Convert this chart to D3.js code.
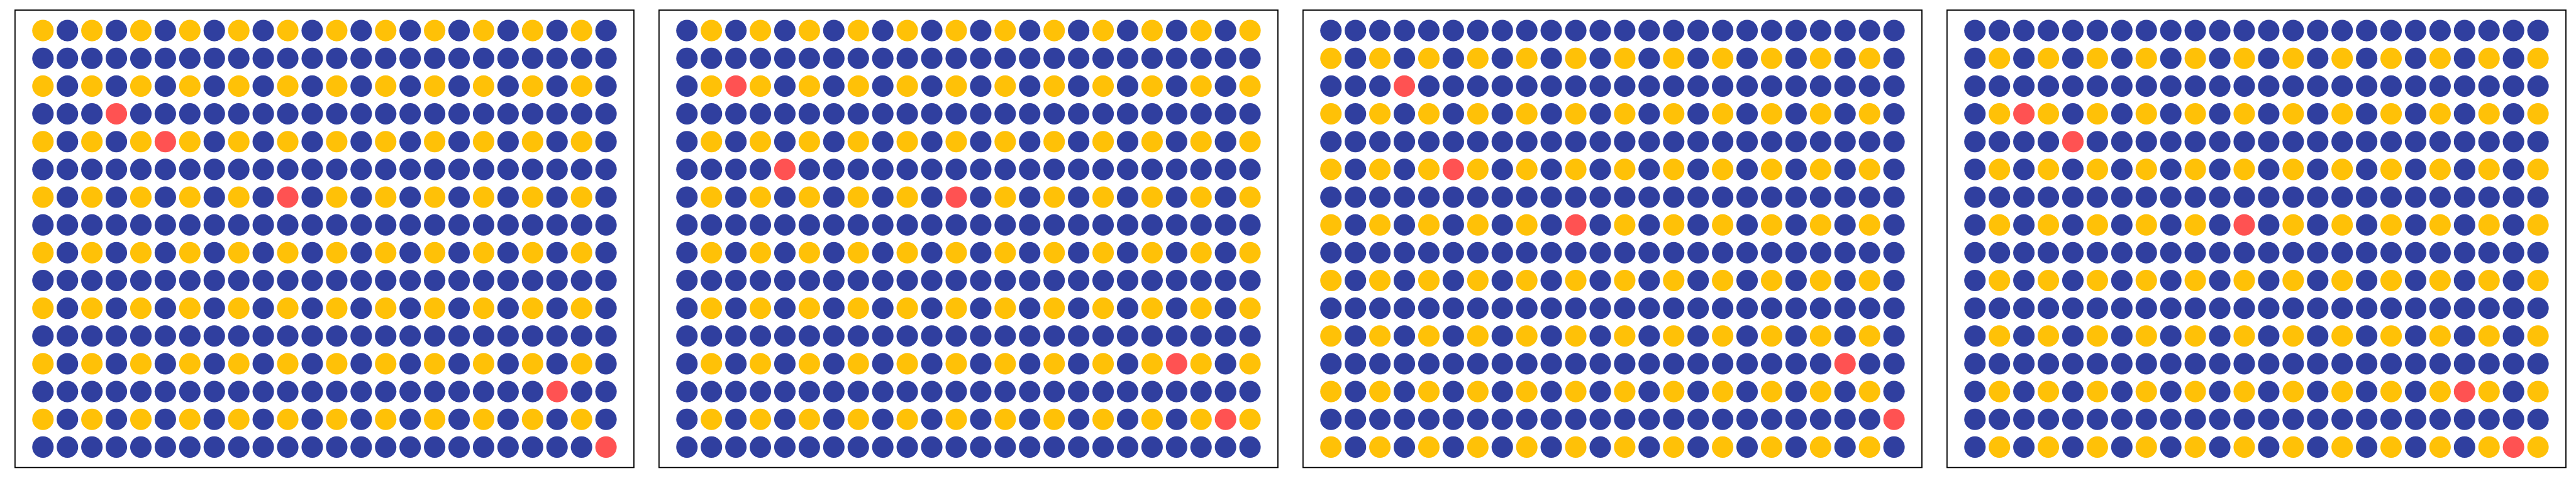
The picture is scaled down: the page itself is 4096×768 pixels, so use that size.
<!DOCTYPE html>
<html>
<head>
<meta charset="utf-8">
<script src="https://cdn.jsdelivr.net/npm/d3@7/dist/d3.min.js"></script>
<style>
  html, body { margin: 0; padding: 0; background: #ffffff; }
  svg { display: block; }
</style>
</head>
<body>
<div id="chart"></div>
<script>
// Cell codes: Y = yellow, N = navy, R = red
const panel1 = [
  "YNYNYNYNYNYNYNYNYNYNYNYN",
  "NNNNNNNNNNNNNNNNNNNNNNNN",
  "YNYNYNYNYNYNYNYNYNYNYNYN",
  "NNNRNNNNNNNNNNNNNNNNNNNN",
  "YNYNYRYNYNYNYNYNYNYNYNYN",
  "NNNNNNNNNNNNNNNNNNNNNNNN",
  "YNYNYNYNYNRNYNYNYNYNYNYN",
  "NNNNNNNNNNNNNNNNNNNNNNNN",
  "YNYNYNYNYNYNYNYNYNYNYNYN",
  "NNNNNNNNNNNNNNNNNNNNNNNN",
  "YNYNYNYNYNYNYNYNYNYNYNYN",
  "NNNNNNNNNNNNNNNNNNNNNNNN",
  "YNYNYNYNYNYNYNYNYNYNYNYN",
  "NNNNNNNNNNNNNNNNNNNNNRNN",
  "YNYNYNYNYNYNYNYNYNYNYNYN",
  "NNNNNNNNNNNNNNNNNNNNNNNR"
];
const panel2 = [
  "NYNYNYNYNYNYNYNYNYNYNYNY",
  "NNNNNNNNNNNNNNNNNNNNNNNN",
  "NYRYNYNYNYNYNYNYNYNYNYNY",
  "NNNNNNNNNNNNNNNNNNNNNNNN",
  "NYNYNYNYNYNYNYNYNYNYNYNY",
  "NNNNRNNNNNNNNNNNNNNNNNNN",
  "NYNYNYNYNYNRNYNYNYNYNYNY",
  "NNNNNNNNNNNNNNNNNNNNNNNN",
  "NYNYNYNYNYNYNYNYNYNYNYNY",
  "NNNNNNNNNNNNNNNNNNNNNNNN",
  "NYNYNYNYNYNYNYNYNYNYNYNY",
  "NNNNNNNNNNNNNNNNNNNNNNNN",
  "NYNYNYNYNYNYNYNYNYNYRYNY",
  "NNNNNNNNNNNNNNNNNNNNNNNN",
  "NYNYNYNYNYNYNYNYNYNYNYRY",
  "NNNNNNNNNNNNNNNNNNNNNNNN"
];
const panel3 = [
  "NNNNNNNNNNNNNNNNNNNNNNNN",
  "YNYNYNYNYNYNYNYNYNYNYNYN",
  "NNNRNNNNNNNNNNNNNNNNNNNN",
  "YNYNYNYNYNYNYNYNYNYNYNYN",
  "NNNNNNNNNNNNNNNNNNNNNNNN",
  "YNYNYRYNYNYNYNYNYNYNYNYN",
  "NNNNNNNNNNNNNNNNNNNNNNNN",
  "YNYNYNYNYNRNYNYNYNYNYNYN",
  "NNNNNNNNNNNNNNNNNNNNNNNN",
  "YNYNYNYNYNYNYNYNYNYNYNYN",
  "NNNNNNNNNNNNNNNNNNNNNNNN",
  "YNYNYNYNYNYNYNYNYNYNYNYN",
  "NNNNNNNNNNNNNNNNNNNNNRNN",
  "YNYNYNYNYNYNYNYNYNYNYNYN",
  "NNNNNNNNNNNNNNNNNNNNNNNR",
  "YNYNYNYNYNYNYNYNYNYNYNYN"
];
const panel4 = [
  "NNNNNNNNNNNNNNNNNNNNNNNN",
  "NYNYNYNYNYNYNYNYNYNYNYNY",
  "NNNNNNNNNNNNNNNNNNNNNNNN",
  "NYRYNYNYNYNYNYNYNYNYNYNY",
  "NNNNRNNNNNNNNNNNNNNNNNNN",
  "NYNYNYNYNYNYNYNYNYNYNYNY",
  "NNNNNNNNNNNNNNNNNNNNNNNN",
  "NYNYNYNYNYNRNYNYNYNYNYNY",
  "NNNNNNNNNNNNNNNNNNNNNNNN",
  "NYNYNYNYNYNYNYNYNYNYNYNY",
  "NNNNNNNNNNNNNNNNNNNNNNNN",
  "NYNYNYNYNYNYNYNYNYNYNYNY",
  "NNNNNNNNNNNNNNNNNNNNNNNN",
  "NYNYNYNYNYNYNYNYNYNYRYNY",
  "NNNNNNNNNNNNNNNNNNNNNNNN",
  "NYNYNYNYNYNYNYNYNYNYNYRY"
];
const panels = [panel1, panel2, panel3, panel4];
const colorCodes = ["N", "Y", "R"];
const colorValues = ["#303F9F", "#FFC107", "#FF5252"];

// Layout in reference units (6000 x 1125), scaled via viewBox
const W = 6000, H = 1125;
const panelStep = 1500, panelLeft = 35, panelTop = 23.5, panelW = 1441.5, panelH = 1065.5;
const padX = 65, padY = 47.7, radius = 25;

const svg = d3.select("#chart").append("svg")
  .attr("width", 4096).attr("height", 768)
  .attr("viewBox", `0 0 ${W} ${H}`);

const color = d3.scaleOrdinal().domain(colorCodes).range(colorValues);
const nCols = panel1[0].length, nRows = panel1.length;
const x = d3.scaleLinear().domain([0, nCols - 1]).range([padX, panelW - padX]);
const y = d3.scaleLinear().domain([0, nRows - 1]).range([padY, panelH - padY]);

panels.forEach((rows, p) => {
  const g = svg.append("g")
    .attr("transform", `translate(${panelLeft + p * panelStep},${panelTop})`);
  g.append("rect")
    .attr("x", 0).attr("y", 0)
    .attr("width", panelW).attr("height", panelH)
    .attr("fill", "#ffffff")
    .attr("stroke", "#000000")
    .attr("stroke-width", 2.6);
  const cells = [];
  rows.forEach((row, r) => {
    row.split("").forEach((code, c) => cells.push({ r, c, code }));
  });
  g.selectAll("circle").data(cells).join("circle")
    .attr("cx", d => x(d.c))
    .attr("cy", d => y(d.r))
    .attr("r", radius)
    .attr("fill", d => color(d.code));
});
</script>
</body>
</html>
